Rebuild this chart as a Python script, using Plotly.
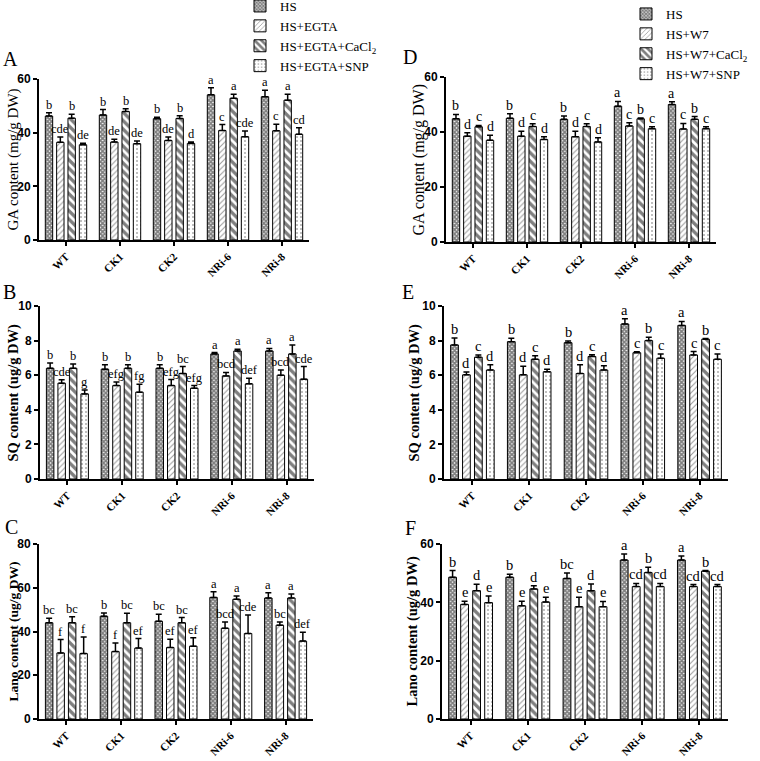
import plotly.graph_objects as go

categories = ["WT", "CK1", "CK2", "NRi-6", "NRi-8"]
names_egta = ["HS", "HS+EGTA", "HS+EGTA+CaCl<sub>2</sub>", "HS+EGTA+SNP"]
names_w7 = ["HS", "HS+W7", "HS+W7+CaCl<sub>2</sub>", "HS+W7+SNP"]

# ---- Panel A: GA content, EGTA set ----
A_HS = [46.2, 46.6, 45.2, 54.1, 53.4]
A_EG = [36.4, 36.5, 37.1, 40.8, 40.7]
A_CA = [45.4, 47.9, 45.3, 52.8, 52.1]
A_SN = [35.5, 35.9, 36.0, 38.5, 39.4]
A_HS_e = [1.2, 2.0, 0.5, 2.6, 2.4]
A_EG_e = [2.0, 1.0, 1.3, 2.2, 2.4]
A_CA_e = [1.5, 1.0, 1.0, 1.5, 2.2]
A_SN_e = [0.6, 1.0, 0.5, 2.1, 2.4]
A_HS_s = ["b", "b", "b", "a", "a"]
A_EG_s = ["cde", "de", "de", "c", "c"]
A_CA_s = ["b", "b", "b", "a", "a"]
A_SN_s = ["de", "de", "d", "cde", "cd"]

# ---- Panel B: SQ content, EGTA set ----
B_HS = [6.40, 6.35, 6.40, 7.23, 7.40]
B_EG = [5.54, 5.40, 5.40, 5.96, 6.00]
B_CA = [6.40, 6.40, 6.10, 7.40, 7.23]
B_SN = [4.92, 5.02, 5.25, 5.50, 5.77]
B_HS_e = [0.30, 0.25, 0.20, 0.08, 0.15]
B_EG_e = [0.20, 0.20, 0.35, 0.20, 0.30]
B_CA_e = [0.25, 0.20, 0.40, 0.10, 0.52]
B_SN_e = [0.23, 0.45, 0.15, 0.33, 0.73]
B_HS_s = ["b", "b", "b", "a", "a"]
B_EG_s = ["cde", "efg", "efg", "bcd", "bcd"]
B_CA_s = ["b", "b", "bc", "a", "a"]
B_SN_s = ["g", "fg", "efg", "def", "cde"]

# ---- Panel C: Lano content, EGTA set ----
C_HS = [44.0, 47.0, 44.7, 55.6, 55.3]
C_EG = [30.2, 30.8, 32.7, 41.5, 42.9]
C_CA = [44.0, 44.0, 44.0, 54.7, 55.3]
C_SN = [29.9, 32.4, 33.3, 39.1, 35.6]
C_HS_e = [2.1, 1.5, 3.2, 2.6, 2.4]
C_EG_e = [6.1, 4.0, 3.8, 2.9, 1.5]
C_CA_e = [2.7, 4.3, 2.4, 1.5, 1.8]
C_SN_e = [7.6, 4.4, 3.8, 8.4, 4.1]
C_HS_s = ["bc", "b", "bc", "a", "a"]
C_EG_s = ["f", "f", "ef", "bcd", "bc"]
C_CA_s = ["bc", "bc", "bc", "a", "a"]
C_SN_s = ["f", "ef", "ef", "cde", "def"]

# ---- Panel D: GA content, W7 set ----
D_HS = [44.8, 45.0, 44.6, 49.4, 50.0]
D_W7 = [38.5, 38.5, 38.3, 42.2, 41.1]
D_CA = [41.9, 42.0, 42.0, 44.8, 44.6]
D_SN = [37.0, 37.3, 36.4, 41.2, 41.2]
D_HS_e = [1.6, 1.6, 1.2, 1.7, 1.0]
D_W7_e = [1.2, 1.8, 2.0, 1.2, 2.0]
D_CA_e = [0.5, 1.0, 1.0, 0.3, 1.0]
D_SN_e = [1.8, 1.0, 1.5, 0.7, 0.7]
D_HS_s = ["b", "b", "b", "a", "a"]
D_W7_s = ["d", "d", "d", "c", "c"]
D_CA_s = ["c", "c", "c", "b", "b"]
D_SN_s = ["d", "d", "d", "c", "c"]

# ---- Panel E: SQ content, W7 set ----
E_HS = [7.75, 7.94, 7.88, 8.96, 8.88]
E_W7 = [6.02, 6.02, 6.10, 7.30, 7.17]
E_CA = [7.04, 6.92, 7.08, 8.00, 8.08]
E_SN = [6.30, 6.20, 6.30, 6.98, 6.92]
E_HS_e = [0.40, 0.20, 0.10, 0.30, 0.23]
E_W7_e = [0.17, 0.50, 0.50, 0.06, 0.20]
E_CA_e = [0.13, 0.20, 0.10, 0.20, 0.04]
E_SN_e = [0.30, 0.15, 0.25, 0.25, 0.30]
E_HS_s = ["b", "b", "b", "a", "a"]
E_W7_s = ["d", "d", "d", "c", "c"]
E_CA_s = ["c", "c", "c", "b", "b"]
E_SN_s = ["d", "d", "d", "c", "c"]

# ---- Panel F: Lano content, W7 set ----
F_HS = [48.6, 48.6, 48.2, 54.5, 54.5]
F_W7 = [39.3, 38.8, 38.5, 45.4, 45.4]
F_CA = [44.0, 44.6, 44.0, 50.2, 50.7]
F_SN = [39.9, 40.1, 38.5, 45.4, 45.4]
F_HS_e = [2.3, 1.0, 1.9, 2.1, 1.4]
F_W7_e = [1.1, 1.6, 3.2, 1.1, 0.7]
F_CA_e = [2.2, 1.1, 2.3, 1.8, 0.2]
F_SN_e = [2.3, 1.6, 1.8, 1.1, 0.7]
F_HS_s = ["b", "b", "bc", "a", "a"]
F_W7_s = ["e", "e", "e", "cd", "cd"]
F_CA_s = ["d", "d", "d", "b", "b"]
F_SN_s = ["e", "e", "e", "cd", "cd"]

W, H = 760, 761
SERIF = "Liberation Serif"
SANS = "Liberation Sans"

patterns = [
    dict(shape="x", size=3, solidity=0.8, fgcolor="#000000", bgcolor="#ffffff"),
    dict(shape="/", size=4, solidity=0.25, fgcolor="#333333", bgcolor="#ffffff"),
    dict(shape="\\", size=6, solidity=0.55, fgcolor="#000000", bgcolor="#ffffff"),
    dict(shape=".", size=4, solidity=0.2, fgcolor="#555555", bgcolor="#ffffff"),
]

BARGAP = 0.16
SLOT = (1 - BARGAP) / 4

panels = [
    # key, names, vals, errs, sigs, x px, y px (bottom, top), ymax, dtick,
    # y title, bold, title size, title x, label pos, legend, letter size
    ("A", names_egta, [A_HS, A_EG, A_CA, A_SN], [A_HS_e, A_EG_e, A_CA_e, A_SN_e],
     [A_HS_s, A_EG_s, A_CA_s, A_SN_s], (39, 309), (240, 79), 60, 20,
     "GA content (mg/g DW)", False, 15, 13, (10, 59), "legend", 12.5),
    ("B", names_egta, [B_HS, B_EG, B_CA, B_SN], [B_HS_e, B_EG_e, B_CA_e, B_SN_e],
     [B_HS_s, B_EG_s, B_CA_s, B_SN_s], (40, 314), (479, 306), 10, 2,
     "SQ content (ug/g DW)", True, 14.5, 13, (9, 292), None, 12.5),
    ("C", names_egta, [C_HS, C_EG, C_CA, C_SN], [C_HS_e, C_EG_e, C_CA_e, C_SN_e],
     [C_HS_s, C_EG_s, C_CA_s, C_SN_s], (39, 313), (719, 544), 80, 20,
     "Lano content (ug/g DW)", True, 13.5, 13, (11, 527), None, 12.5),
    ("D", names_w7, [D_HS, D_W7, D_CA, D_SN], [D_HS_e, D_W7_e, D_CA_e, D_SN_e],
     [D_HS_s, D_W7_s, D_CA_s, D_SN_s], (446, 716), (242, 77), 60, 20,
     "GA content (mg/g DW)", False, 16, 418, (410, 57), "legend2", 14),
    ("E", names_w7, [E_HS, E_W7, E_CA, E_SN], [E_HS_e, E_W7_e, E_CA_e, E_SN_e],
     [E_HS_s, E_W7_s, E_CA_s, E_SN_s], (444, 728), (479, 306), 10, 2,
     "SQ content (ug/g DW)", True, 14.5, 414, (408, 292), None, 14.5),
    ("F", names_w7, [F_HS, F_W7, F_CA, F_SN], [F_HS_e, F_W7_e, F_CA_e, F_SN_e],
     [F_HS_s, F_W7_s, F_CA_s, F_SN_s], (442, 728), (719, 544), 60, 20,
     "Lano content (ug/g DW)", True, 14.5, 412, (411, 528), None, 14.5),
]

fig = go.Figure()
annotations = []
layout = {}

for p, (key, names, vals, errs, sigs, xpx, ypx, ymax, dtick, ytitle, bold, tsize, tx,
        lpos, leg, lsize) in enumerate(panels):
    n = p + 1
    xa = "x" if n == 1 else f"x{n}"
    ya = "y" if n == 1 else f"y{n}"
    xk = "xaxis" if n == 1 else f"xaxis{n}"
    yk = "yaxis" if n == 1 else f"yaxis{n}"
    for i in range(4):
        fig.add_trace(go.Bar(
            x=categories, y=vals[i], name=names[i], xaxis=xa, yaxis=ya,
            offsetgroup=str(i),
            marker=dict(color="white", line=dict(color="black", width=1), pattern=patterns[i]),
            error_y=dict(type="data", array=errs[i], arrayminus=[0] * 5, symmetric=False,
                         color="black", thickness=1.5, width=3),
            showlegend=leg is not None, legend=leg if leg else "legend",
        ))
        for j in range(5):
            annotations.append(dict(
                x=j + (i - 1.5) * SLOT, y=vals[i][j] + errs[i][j], xref=xa, yref=ya,
                text=sigs[i][j], showarrow=False, xanchor="center", yanchor="bottom",
                yshift=-1, font=dict(family=SERIF, size=lsize, color="#000000")))
    layout[xk] = dict(
        domain=[xpx[0] / W, xpx[1] / W], anchor=ya, type="category",
        range=[-0.5, 4.5], showline=True, linecolor="black", linewidth=2,
        ticks="outside", ticklen=4, tickwidth=1.5, tickcolor="black",
        tickangle=-45, tickfont=dict(family=SERIF, size=11, color="black", weight="bold"),
        showgrid=False, zeroline=False, automargin=False)
    layout[yk] = dict(
        domain=[1 - ypx[0] / H, 1 - ypx[1] / H], anchor=xa, range=[0, ymax], dtick=dtick,
        showline=True, linecolor="black", linewidth=2, ticks="outside", ticklen=4,
        tickwidth=2, tickcolor="black",
        tickfont=dict(family=SANS, size=12, color="black", weight="bold"),
        showgrid=False, zeroline=False, automargin=False)
    annotations.append(dict(
        x=tx / W, y=1 - (ypx[0] + ypx[1]) / 2 / H, xref="paper", yref="paper",
        xanchor="center", yanchor="middle",
        text=(f"<b>{ytitle}</b>" if bold else ytitle), textangle=-90, showarrow=False,
        font=dict(family=SERIF, size=tsize, color="black")))
    annotations.append(dict(
        x=lpos[0] / W, y=1 - lpos[1] / H, xref="paper", yref="paper", text=key,
        xanchor="center", yanchor="middle",
        showarrow=False, font=dict(family=SERIF, size=20, color="black")))

fig.update_layout(
    width=W, height=H, margin=dict(l=0, r=0, t=0, b=0, autoexpand=False),
    paper_bgcolor="white", plot_bgcolor="white",
    barmode="group", bargap=BARGAP, bargroupgap=0.35,
    annotations=annotations,
    legend=dict(x=240 / W, y=1 + 9 / H, xanchor="left", yanchor="top",
                font=dict(family=SERIF, size=13, color="black"),
                bgcolor="rgba(0,0,0,0)", tracegroupgap=0),
    legend2=dict(x=626 / W, y=1 + 1 / H, xanchor="left", yanchor="top",
                 font=dict(family=SERIF, size=13, color="black"),
                 bgcolor="rgba(0,0,0,0)", tracegroupgap=0),
    **layout,
)

fig.write_html("out.html", config={"displayModeBar": False},
               post_script="document.body.style.margin='0';")
